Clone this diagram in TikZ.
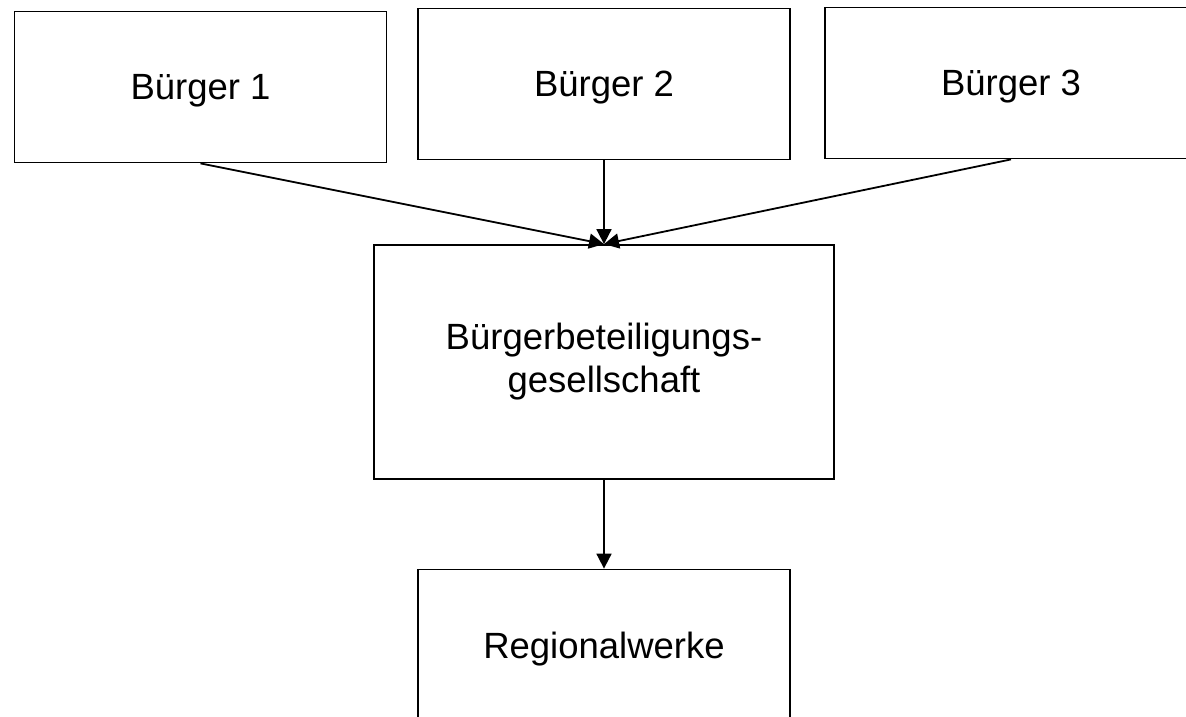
\documentclass[tikz,border=0pt]{standalone}
\usepackage{fontspec}
\setmainfont{Liberation Sans}
\usepackage{tikz}
\usetikzlibrary{positioning,arrows.meta}

\begin{document}
\begin{tikzpicture}[x=1pt,y=-1pt,
    kasten/.style={draw, line width=1.8pt, inner sep=0pt, minimum width=372pt, minimum height=151pt,
      text depth=0pt, font=\fontsize{36.5}{43}\selectfont},
    pfeil/.style={line width=1.8pt, -{Triangle[length=15pt,width=15pt]}}]
           \useasboundingbox (0,0) rectangle (1186,716);
           \clip (0,0) rectangle (1186,716);
           \node[kasten] (buerger1) at (200.5,87) {Bürger 1};
           \node[kasten] (buerger2) at (604,84) {Bürger 2};
           \node[kasten] (buerger3) at (1011,83) {Bürger 3};
           \node[kasten, minimum width=460pt, minimum height=234pt, text depth=, align=center]
             (gesellschaft) at (604,362) {Bürgerbeteiligungs-\\gesellschaft};
           \node[kasten] (werke) at (604,645) {Regionalwerke};
           \draw[pfeil] (buerger1.south) -- (gesellschaft.north);
           \draw[pfeil] (buerger2.south) -- (gesellschaft.north);
           \draw[pfeil] (buerger3.south) -- (gesellschaft.north);
           \draw[pfeil] (gesellschaft.south) -- (werke.north);
         \end{tikzpicture}
\end{document}
